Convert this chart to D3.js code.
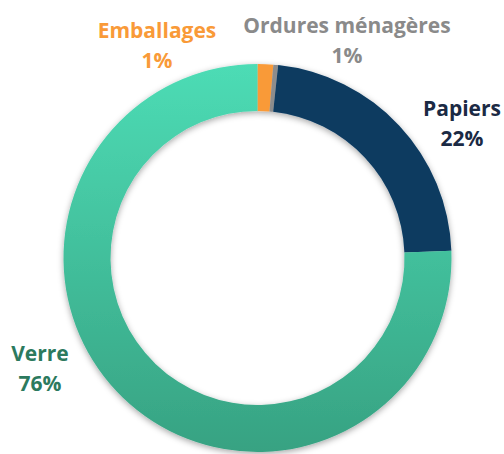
<!DOCTYPE html>
<html>
<head>
    <meta charset="utf-8">
    <script src="https://cdn.jsdelivr.net/npm/d3@7"></script>
    <style>
        body { margin: 0; background: #fff; }
        text { font-family: "Open Sans", Lato, sans-serif; font-weight: 700; }
    </style>
</head>
<body>
    <div id="chart"></div>
    <script>

        // parts, clockwise from 12 o'clock
        let categories = ["Emballages", "Ordures ménagères", "Papiers", "Verre"];
        let shares = [1.3, 0.4, 22.7, 75.6];
        let pctLabels = ["1%", "1%", "22%", "76%"];
        let colors = ["#f99a38", "#8c8c8c", "#093a61", "url(#verreGrad)"];
        let labelColors = ["#f99a38", "#8a8a8a", "#1b2a44", "#2c7a5e"];
        // label anchor positions (centre x, first baseline)
        let labelPos = [[157, 38], [347, 33], [462, 116], [40, 361]];

        let width = 504, height = 454;
        let cx = 257.5, cy = 258;
        let outerR = 194, innerR = 147;

        let svg = d3.select("#chart")
            .append("svg")
            .attr("width", width)
            .attr("height", height);

        let defs = svg.append("defs");

        // gradient coords are in the translated group's space
        let grad = defs.append("linearGradient")
            .attr("id", "verreGrad")
            .attr("gradientUnits", "userSpaceOnUse")
            .attr("x1", 0).attr("y1", -outerR)
            .attr("x2", 0).attr("y2", outerR);
        grad.append("stop").attr("offset", "0%").attr("stop-color", "#4ddcb5");
        grad.append("stop").attr("offset", "100%").attr("stop-color", "#37a282");

        let shadow = defs.append("filter")
            .attr("id", "shadow")
            .attr("x", "-20%").attr("y", "-20%")
            .attr("width", "140%").attr("height", "140%");
        shadow.append("feDropShadow")
            .attr("dx", 0).attr("dy", 2)
            .attr("stdDeviation", 3)
            .attr("flood-color", "#000")
            .attr("flood-opacity", 0.35);

        let pie = d3.pie().sort(null).value(d => d);
        let arc = d3.arc().innerRadius(innerR).outerRadius(outerR);

        let g = svg.append("g")
            .attr("transform", `translate(${cx},${cy})`)
            .attr("filter", "url(#shadow)");

        g.selectAll("path")
            .data(pie(shares))
            .enter()
            .append("path")
            .attr("d", arc)
            .attr("fill", (d, i) => colors[i]);

        let labels = svg.selectAll("text.lbl")
            .data(categories)
            .enter()
            .append("text")
            .attr("class", "lbl")
            .attr("text-anchor", "middle")
            .attr("font-size", 21)
            .attr("fill", (d, i) => labelColors[i]);

        labels.append("tspan")
            .attr("x", (d, i) => labelPos[i][0])
            .attr("y", (d, i) => labelPos[i][1])
            .text(d => d);

        labels.append("tspan")
            .attr("x", (d, i) => labelPos[i][0])
            .attr("y", (d, i) => labelPos[i][1] + 30)
            .text((d, i) => pctLabels[i]);

    </script>
</body>
</html>
